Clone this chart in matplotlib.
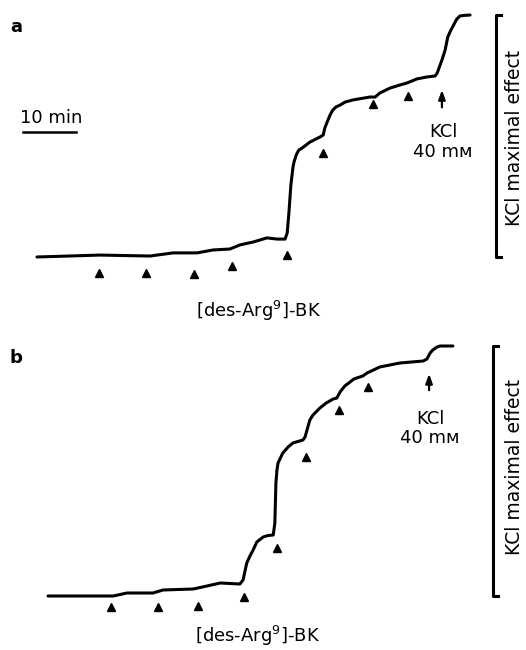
import numpy as np
import matplotlib.pyplot as plt

plt.rcParams['font.family'] = ['DejaVu Sans']

# panel a trace: time (min) vs tension (% of KCl maximal effect)
a_time = [0, 11.9, 21.3, 25.7, 30.2, 33.2, 36.4, 38.3, 40.8, 43.4, 45.3, 46.8,
          47.2, 47.5, 47.7, 47.9, 48.3, 48.5, 48.9, 49.1, 49.4, 50.0, 51.5,
          53.4, 54.0, 54.3, 54.9, 55.3, 55.8, 56.4, 57.2, 58.1, 59.6, 62.8,
          63.8, 64.7, 66.6, 68.5, 69.8, 71.7, 73.6, 75.1, 75.5, 76.4, 77.0,
          77.5, 78.1, 78.9, 79.2, 79.8, 80.4, 81.7]
a_tension = [0, 0.8, 0.4, 1.7, 1.7, 2.9, 3.3, 5.0, 6.2, 7.9, 7.4, 7.4,
             9.9, 17.4, 23.6, 29.8, 37.2, 39.3, 42.1, 43.0, 44.2, 45.0, 47.5,
             49.6, 50.4, 53.3, 56.6, 58.7, 60.7, 62.0, 62.8, 64.0, 64.9, 66.1,
             66.1, 67.8, 69.8, 71.1, 71.9, 73.6, 74.4, 74.8, 76.0, 81.4, 85.5,
             90.9, 93.8, 97.1, 98.3, 99.6, 99.8, 100]
# des-Arg9-BK additions (triangles)
a_dose_time = [11.7, 20.6, 29.6, 36.8, 47.2, 54.0, 63.4, 70.0]
a_dose_y = [-6.6, -6.6, -7.0, -3.7, 0.8, 43.0, 63.2, 66.5]
a_kcl_time = 76.4
a_kcl_y = (60.7, 70.2)

# panel b trace
b_time = [0, 12.3, 14.9, 19.8, 21.7, 27.4, 30.0, 32.5, 36.2, 36.8, 37.5,
          38.1, 38.7, 39.4, 40.6, 41.5, 42.5, 42.8, 43.0, 43.2, 43.4, 44.3,
          45.3, 46.2, 48.1, 48.5, 49.4, 50.0, 51.3, 52.5, 53.8, 54.5, 55.1,
          56.0, 57.0, 57.7, 59.4, 60.2, 62.6, 64.5, 66.4, 70.8, 71.5, 72.1,
          72.6, 73.4, 74.0, 76.4]
b_tension = [0, 0, 1.2, 1.2, 2.4, 2.8, 4.0, 5.2, 4.8, 6.4, 13.2,
             16.0, 18.4, 21.6, 23.6, 24.2, 24.4, 29.2, 45.2, 50.4, 53.2, 57.2,
             59.6, 61.2, 62.4, 63.6, 70.4, 72.4, 75.2, 77.2, 78.8, 79.2, 81.6,
             84.0, 85.6, 86.8, 88.0, 89.2, 91.6, 92.4, 93.2, 94.0, 94.8, 97.2,
             98.4, 99.6, 100, 100]
b_dose_time = [11.9, 20.8, 28.3, 37.0, 43.2, 48.7, 54.9, 60.4]
b_dose_y = [-4.4, -4.4, -4.0, -0.4, 19.2, 55.6, 74.4, 83.6]
b_kcl_time = 71.9
b_kcl_y = (81.2, 90.0)

fig = plt.figure(figsize=(5.26, 6.5), dpi=100)


def px(x, y):
    return x / 526, 1 - y / 650


def panel(rect, xlim, ylim, t, v, dt, dy, kt, ky, brk_x):
    ax = fig.add_axes(rect)
    ax.set_xlim(*xlim)
    ax.set_ylim(*ylim)
    ax.axis('off')
    ax.plot(t, v, color='black', lw=2.2, solid_capstyle='round',
            solid_joinstyle='round')
    ax.plot(dt, dy, linestyle='none', marker='^', ms=5.5, color='black')
    ax.annotate('', xy=(kt, ky[1]), xytext=(kt, ky[0]),
                arrowprops=dict(arrowstyle='-|>,head_length=0.55,head_width=0.2',
                                color='black', lw=1.6))
    # bracket for KCl maximal effect
    ax.plot([brk_x + 1.0, brk_x, brk_x, brk_x + 1.0], [100, 100, 0, 0],
            color='black', lw=2.2)
    return ax


ax_a = panel([0, 0.5, 1, 0.5], (-6.98, 92.26), (-28.1, 106.2),
             a_time, a_tension, a_dose_time, a_dose_y, a_kcl_time, a_kcl_y, 86.6)
ax_b = panel([0, 0, 1, 0.5], (-9.06, 90.19), (-21.6, 108.4),
             b_time, b_tension, b_dose_time, b_dose_y, b_kcl_time, b_kcl_y, 84.0)

# 10 min scale bar
ax_a.plot([-2.64, 7.36], [51.7, 51.7], color='black', lw=1.8)
fig.text(*px(51, 118), '10 min', ha='center', va='center', fontsize=13)

fig.text(*px(16, 27), 'a', ha='center', va='center', fontsize=13, fontweight='bold')
fig.text(*px(16, 358), 'b', ha='center', va='center', fontsize=13, fontweight='bold')

for x, y1, y2 in [(443, 132, 152), (430, 419, 438)]:
    fig.text(*px(x, y1), 'KCl', ha='center', va='center', fontsize=13)
    fig.text(*px(x, y2), '40 mᴍ', ha='center', va='center', fontsize=13)

for y in [138, 467]:
    fig.text(*px(514, y), 'KCl maximal effect', ha='center', va='center',
             rotation=90, fontsize=13.5)

fig.text(*px(259, 311), '[des-Arg$^{9}$]-BK', ha='center', va='center', fontsize=13)
fig.text(*px(258, 636), '[des-Arg$^{9}$]-BK', ha='center', va='center', fontsize=13)

fig.savefig('out.png', dpi=100, facecolor='white')
